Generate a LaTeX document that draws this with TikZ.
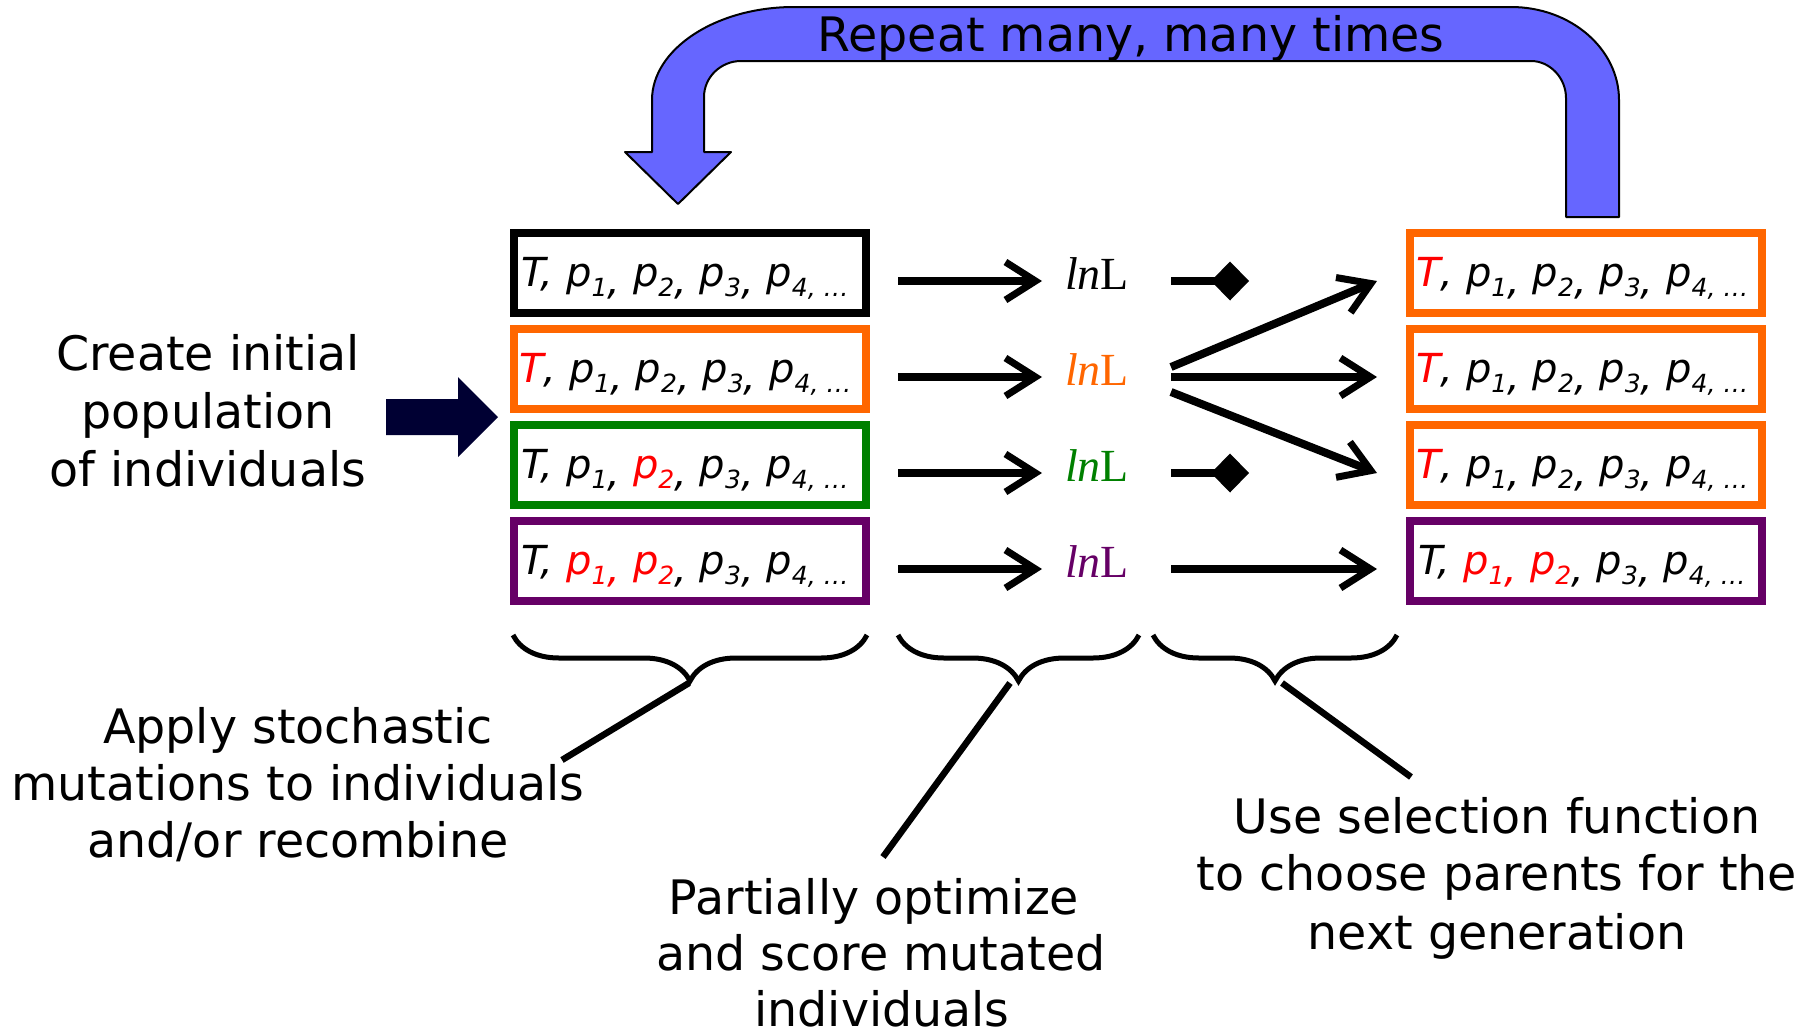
\documentclass[tikz,border=0pt]{standalone}
\usepackage{fontspec}
\setmainfont{DejaVu Sans}
\newfontfamily\lnfont{Liberation Serif}
\usetikzlibrary{arrows.meta,decorations.pathreplacing}
\definecolor{cOrange}{HTML}{FF6600}
\definecolor{cGreen}{HTML}{008000}
\definecolor{cPurple}{HTML}{660066}
\definecolor{cRed}{HTML}{FF0000}
\definecolor{cBlue}{HTML}{6666FF}
\definecolor{cNavy}{HTML}{000033}
\newcommand\psub[1]{\raisebox{-10pt}{\fontsize{25}{25}\selectfont #1}}
\newcommand\pc{\raisebox{-8pt}{,}}
\newcommand\ptail{p\psub{4, …}}
\begin{document}
\begin{tikzpicture}[x=1pt,y=-1pt,
  pbox/.style={draw, line width=8pt, minimum width=352pt, minimum height=80pt, inner sep=0pt},
  ptext/.style={anchor=base west, inner sep=0pt, font=\fontsize{40}{40}\selectfont\itshape},
  lnl/.style={anchor=base, inner sep=0pt, font=\fontsize{46}{46}\selectfont\lnfont},
  big/.style={anchor=base, inner sep=0pt, font=\fontsize{47.5}{57}\selectfont},
  flow/.style={line width=8pt, -{Straight Barb[length=30pt,width=38pt,line width=7pt]}},
  stopper/.style={line width=8pt, -{Diamond[length=38pt,width=39pt,line width=0pt]}},
  brc/.style={line width=5pt, decorate, decoration={brace, mirror, amplitude=46pt}},
  ptr/.style={line width=6.5pt}
]
\useasboundingbox (0,0) rectangle (1815,1034);

% blue loop arrow
\path[fill=cBlue, draw=black, line width=2pt, line join=round]
  (625,152) -- (652,152) -- (652,100) .. controls (652,49) and (716,7) .. (794,7)
  -- (1511,7) .. controls (1571,7) and (1619,49) .. (1619,100) -- (1619,217)
  -- (1566,217) -- (1566,98) .. controls (1566,78) and (1550,61) .. (1531,61)
  -- (741,61) .. controls (721,61) and (704,77) .. (704,97) -- (704,152)
  -- (731,152) -- (678,204) -- cycle;
\node[big] (rep) at (1131,51) {Repeat many, many times};

% initial population text and arrow
\node[big] (c1) at (208,370) {Create initial};
\node[big] (c2) at (208,428) {population};
\node[big] (c3) at (208,486) {of individuals};
\fill[cNavy] (386,399) -- (458,399) -- (458,377) -- (498,417) -- (458,457) -- (458,435) -- (386,435) -- cycle;

% left boxes
\node[pbox, draw=black]   (L1) at (690,273) {};
\node[pbox, draw=cOrange] (L2) at (690,369) {};
\node[pbox, draw=cGreen]  (L3) at (690,465) {};
\node[pbox, draw=cPurple] (L4) at (690,561) {};
\node[ptext] (t1) at (521,286) {T, p\psub{1}\pc{} p\psub{2}\pc{} p\psub{3}\pc{} \ptail};
\node[ptext] (t2) at (519,382) {\textcolor{cRed}{T}, p\psub{1}\pc{} p\psub{2}\pc{} p\psub{3}\pc{} \ptail};
\node[ptext] (t3) at (521,478) {T, p\psub{1}\pc{} \textcolor{cRed}{p\psub{2}}\pc{} p\psub{3}\pc{} \ptail};
\node[ptext] (t4) at (521,574) {T, \textcolor{cRed}{p\psub{1}\pc{} p\psub{2}}\pc{} p\psub{3}\pc{} \ptail};

% right boxes
\node[pbox, draw=cOrange] (R1) at (1586,273) {};
\node[pbox, draw=cOrange] (R2) at (1586,369) {};
\node[pbox, draw=cOrange] (R3) at (1586,465) {};
\node[pbox, draw=cPurple] (R4) at (1586,561) {};
\node[ptext] (u1) at (1416,286) {\textcolor{cRed}{T}, p\psub{1}\pc{} p\psub{2}\pc{} p\psub{3}\pc{} \ptail};
\node[ptext] (u2) at (1416,382) {\textcolor{cRed}{T}, p\psub{1}\pc{} p\psub{2}\pc{} p\psub{3}\pc{} \ptail};
\node[ptext] (u3) at (1416,478) {\textcolor{cRed}{T}, p\psub{1}\pc{} p\psub{2}\pc{} p\psub{3}\pc{} \ptail};
\node[ptext] (u4) at (1418,574) {T, \textcolor{cRed}{p\psub{1}\pc{} p\psub{2}}\pc{} p\psub{3}\pc{} \ptail};

% lnL scores
\node[lnl, text=black]   (s1) at (1097,289) {{\itshape ln}L};
\node[lnl, text=cOrange] (s2) at (1097,385) {{\itshape ln}L};
\node[lnl, text=cGreen]  (s3) at (1097,481) {{\itshape ln}L};
\node[lnl, text=cPurple] (s4) at (1097,577) {{\itshape ln}L};

% arrow endpoints
\foreach \i/\y in {1/281,2/377,3/473,4/569}{
  \coordinate (a\i) at (898,\y);
  \coordinate (b\i) at (1042,\y);
  \coordinate (c\i) at (1171,\y);
  \coordinate (d\i) at (1377,\y);
}
\coordinate (cu) at (1171,367);
\coordinate (cl) at (1171,392);
\coordinate (e1) at (1249,281);
\coordinate (e3) at (1249,473);

\foreach \i in {1,2,3,4}{ \draw[flow] (a\i) -- (b\i); }
\draw[stopper] (c1) -- (e1);
\draw[stopper] (c3) -- (e3);
\draw[flow] (cu) -- (d1);
\draw[flow] (c2) -- (d2);
\draw[flow] (cl) -- (d3);
\draw[flow] (c4) -- (d4);

% braces
\coordinate (br1a) at (513,635); \coordinate (br1b) at (867,635);
\coordinate (br2a) at (898,635); \coordinate (br2b) at (1139,635);
\coordinate (br3a) at (1153,635); \coordinate (br3b) at (1397,635);
\draw[brc] (br1a) -- (br1b);
\draw[brc] (br2a) -- (br2b);
\draw[brc] (br3a) -- (br3b);

% pointer lines
\coordinate (p1a) at (689,683); \coordinate (p1b) at (562,760);
\coordinate (p2a) at (1010,683); \coordinate (p2b) at (883,857);
\coordinate (p3a) at (1282,683); \coordinate (p3b) at (1411,777);
\draw[ptr] (p1a) -- (p1b);
\draw[ptr] (p2a) -- (p2b);
\draw[ptr] (p3a) -- (p3b);

% bottom texts
\node[big] (m1) at (298,743) {Apply stochastic};
\node[big] (m2) at (298,800) {mutations to individuals};
\node[big] (m3) at (298,857) {and/or recombine};
\node[big] (o1) at (874,914) {Partially optimize};
\node[big] (o2) at (881,970) {and score mutated};
\node[big] (o3) at (882,1026) {individuals};
\node[big] (g1) at (1497,833) {Use selection function};
\node[big] (g2) at (1497,890) {to choose parents for the};
\node[big] (g3) at (1497,949) {next generation};
\end{tikzpicture}
\end{document}
